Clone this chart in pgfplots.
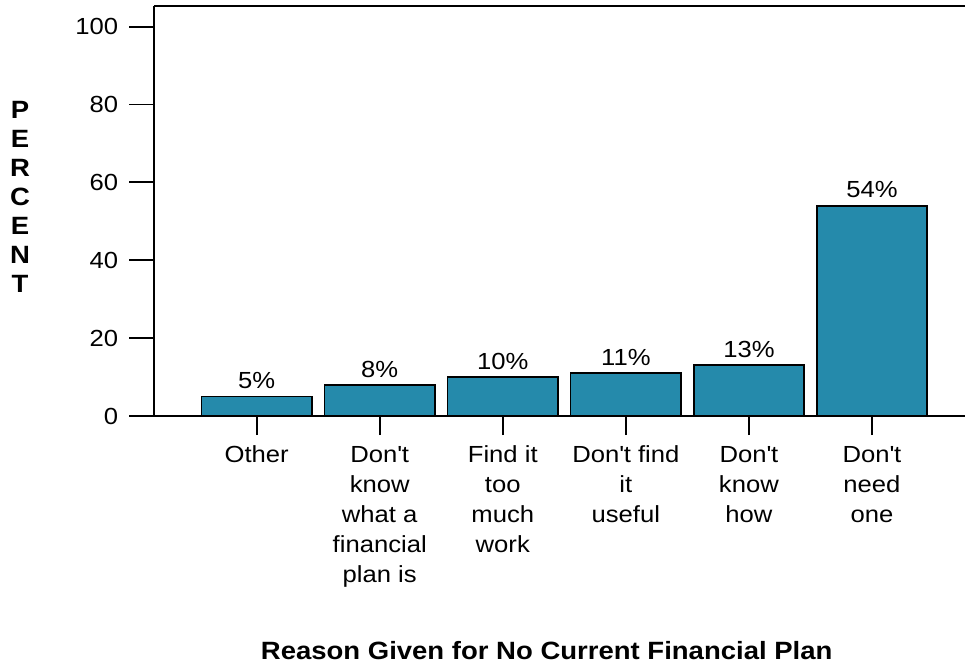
\documentclass[border=0pt]{standalone}
\usepackage{fontspec}
\setmainfont{Liberation Sans}[FakeStretch=1.1]
\usepackage{pgfplots}
\pgfplotsset{compat=1.18}
\definecolor{barblue}{RGB}{37,138,171}
\begin{document}
\begin{tikzpicture}
\begin{axis}[
  name=ax, at={(0,0)}, anchor=south west,
  scale only axis, width=405.35pt, height=205pt,
  xmin=-0.832, xmax=5.756, ymin=0, ymax=105.3,
  axis x line=box, axis y line=left,
  x axis line style={-}, y axis line style={-},
  axis line style={line width=1pt, black},
  xtick={0,...,5},
  xticklabels={Other,{Don\textquotesingle t\\know\\what a\\financial\\plan is},{Find it\\too\\much\\work},{Don\textquotesingle t find\\it\\useful},{Don\textquotesingle t\\know\\how},{Don\textquotesingle t\\need\\one}},
  xtick pos=left, ytick pos=left,
  tick align=outside,
  major tick length=12.5pt,
  xtick style={/pgfplots/major tick length=9.5pt, line width=0.9pt, black},
  ytick style={line width=0.9pt, black},
  ytick={0,20,...,100},
  /pgf/number format/assume math mode=true,
  ticklabel style={font=\fontsize{11.65}{15}\selectfont},
  xticklabel style={align=center, yshift=1pt},
  yticklabel style={xshift=-2pt},
  ylabel={P\\E\\R\\C\\E\\N\\T},
  ylabel style={rotate=-90, at={(axis description cs:-0.1657,0.534)}, anchor=center, align=center, font=\bfseries\fontsize{12.5}{14.5}\selectfont},
  xlabel={Reason Given for No Current Financial Plan},
  xlabel style={at={(axis description cs:0.484,-0.5927)}, anchor=base, font=\bfseries\fontsize{12.5}{15}\selectfont},
  ybar, bar width=0.898,
  nodes near coords={\pgfmathprintnumber{\pgfplotspointmeta}\%},
  nodes near coords style={font=\fontsize{11.65}{14}\selectfont, black},
]
\addplot[fill=barblue, draw=black, line width=0.9pt] coordinates {(0,5) (1,8) (2,10) (3,11) (4,13) (5,54)};
\end{axis}
\pgfresetboundingbox
\useasboundingbox (-77.15pt,-124pt) rectangle (405.35pt,208pt);
\end{tikzpicture}
\end{document}
